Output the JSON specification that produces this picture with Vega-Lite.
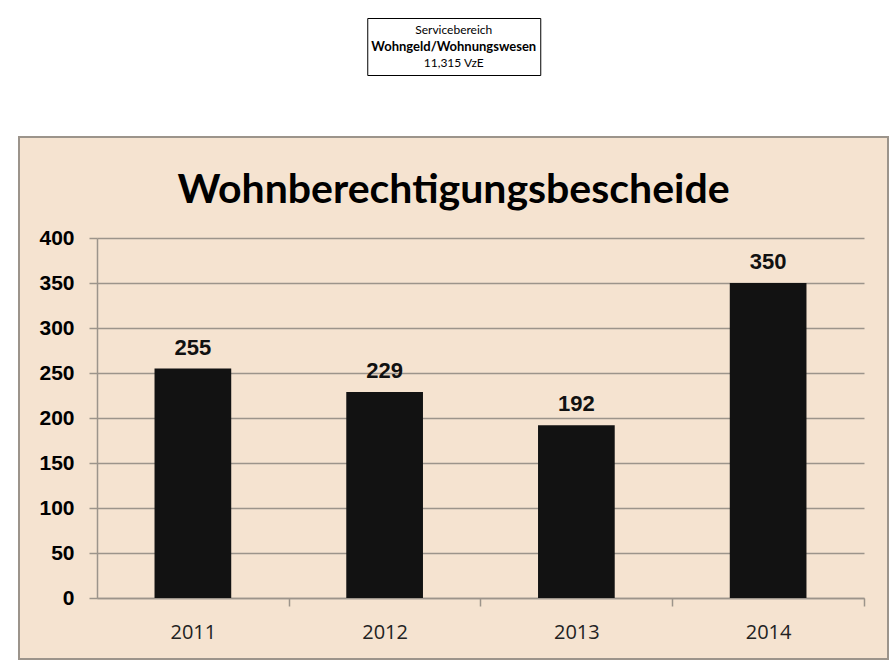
{
  "$schema": "https://vega.github.io/schema/vega-lite/v6.json",
  "background": "white",
  "padding": {"left": 18, "top": 17, "right": 0, "bottom": 0},
  "spacing": 60,
  "center": true,
  "vconcat": [
    {
      "width": 173,
      "height": 57,
      "view": {"stroke": "#000000", "strokeWidth": 1, "fill": "white"},
      "data": {"values": [
        {"line": 1, "text": "Servicebereich", "bold": false},
        {"line": 2, "text": "Wohngeld/Wohnungswesen", "bold": true},
        {"line": 3, "text": "11,315 VzE", "bold": false}
      ]},
      "encoding": {
        "y": {"field": "line", "type": "ordinal", "axis": null, "scale": {"type": "point", "padding": 0.727}},
        "text": {"field": "text"}
      },
      "layer": [
        {"transform": [{"filter": "!datum.bold"}], "mark": {"type": "text", "font": "Lato", "fontSize": 12, "color": "#000000"}},
        {"transform": [{"filter": "datum.bold"}], "mark": {"type": "text", "font": "Lato", "fontSize": 13, "fontWeight": "bold", "color": "#000000"}}
      ]
    },
    {
      "width": 869,
      "height": 522,
      "view": {"fill": "#F5E3D0", "stroke": "#9c948b", "strokeWidth": 2},
      "title": {"text": "Wohnberechtigungsbescheide", "font": "Lato", "fontSize": 41, "fontWeight": "bold", "color": "#000000", "anchor": "middle", "frame": "group", "baseline": "alphabetic", "offset": -107},
      "data": {"values": [
        {"year": "2011", "value": 255},
        {"year": "2012", "value": 229},
        {"year": "2013", "value": 192},
        {"year": "2014", "value": 350}
      ]},
      "encoding": {
        "x": {
          "field": "year", "type": "ordinal",
          "scale": {"range": [78, 845], "paddingInner": 0.6, "paddingOuter": 0.3},
          "axis": {
            "title": null, "orient": "bottom", "offset": -61, "grid": false,
            "bandPosition": 1, "tickOffset": 57.5, "labelOffset": -57.5, "tickExtra": false,
            "tickSize": 8, "tickColor": "#9c948b", "tickWidth": 1.5,
            "domainColor": "#9c948b", "domainWidth": 1.5,
            "labelAngle": 0, "labelPadding": 16, "labelFont": "Open Sans", "labelFontSize": 20, "labelColor": "#222222"
          }
        },
        "y": {
          "field": "value", "type": "quantitative",
          "scale": {"domain": [0, 400], "range": [461, 101], "nice": false},
          "axis": {
            "title": null, "values": [0, 50, 100, 150, 200, 250, 300, 350, 400], "offset": -78,
            "grid": true, "gridColor": "#9c948b", "gridWidth": 1.3,
            "tickSize": 8, "tickColor": "#9c948b", "tickWidth": 1.5,
            "domainColor": "#9c948b", "domainWidth": 1.5,
            "labelPadding": 15, "labelFont": "Liberation Sans", "labelFontSize": 21, "labelFontWeight": "bold", "labelColor": "#000000"
          }
        }
      },
      "layer": [
        {"mark": {"type": "bar", "color": "#121212"}},
        {"mark": {"type": "text", "font": "Liberation Sans", "fontSize": 22, "fontWeight": "bold", "baseline": "alphabetic", "dy": -14, "color": "#111111"}, "encoding": {"text": {"field": "value"}}}
      ]
    }
  ]
}
